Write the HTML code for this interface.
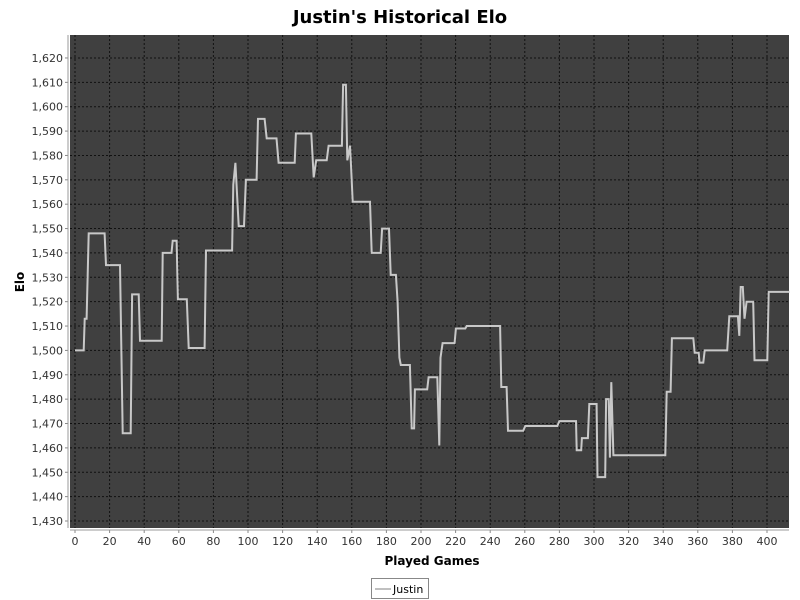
<!DOCTYPE html>
<html><head><meta charset="utf-8"><style>
body{margin:0;background:#fff;font-family:"DejaVu Sans","Liberation Sans",sans-serif;}
svg{display:block}
</style></head><body>
<svg id="chart" width="800" height="600">
<text x="400" y="23" text-anchor="middle" font-size="18" font-weight="bold">Justin's Historical Elo</text>
<rect x="70" y="35" width="719" height="493" fill="#404040"/>
<g id="grid"></g><g id="axes"></g>
<text transform="translate(24,282) rotate(-90)" text-anchor="middle" font-size="12" font-weight="bold">Elo</text>
<text x="432" y="565" text-anchor="middle" font-size="12" font-weight="bold">Played Games</text>
<g>
<rect x="371.5" y="578.5" width="57" height="20" fill="#fff" stroke="#888"/>
<line x1="375" y1="589" x2="391" y2="589" stroke="#c0c0c0" stroke-width="2"/>
<text x="393" y="593" font-size="11">Justin</text>
</g>
</svg>
<script>
const games=[0,5,5.6,6.7,7.9,17.1,17.9,26,27.6,32.2,33,36.8,37.6,50.1,50.7,55.8,56.5,58.7,59.5,64.6,65.7,74.9,75.7,90.8,91.5,92.7,94.6,97.7,98.8,105,105.8,109.6,110.8,116.5,117.7,127,127.7,136.6,138,139.4,145.5,146.6,154.3,155,156.6,157.4,159,160.5,170.5,171.5,176.7,177.5,181.5,182.5,185.5,186.5,187.5,188.3,193.6,194.6,196,196.5,203.6,204.4,209.4,210.6,211.3,212.5,219.4,220.2,225.6,226.4,245.7,246.4,249.5,250.3,259.1,260.3,278.8,280,289.6,290,292.6,293,296.5,297.3,301.5,302,306.5,307,308.5,309.2,310,311.2,341.2,342,344.3,345,357.4,358.2,360.5,361,363.2,364,377,378.2,383.2,384,384.8,386,387,388.2,392,392.8,400.2,401,413];
const elo=[1500,1500,1513,1513,1548,1548,1535,1535,1466,1466,1523,1523,1504,1504,1540,1540,1545,1545,1521,1521,1501,1501,1541,1541,1568,1577,1551,1551,1570,1570,1595,1595,1587,1587,1577,1577,1589,1589,1571,1578,1578,1584,1584,1609,1609,1578,1584,1561,1561,1540,1540,1550,1550,1531,1531,1520,1497,1494,1494,1468,1468,1484,1484,1489,1489,1461,1497,1503,1503,1509,1509,1510,1510,1485,1485,1467,1467,1469,1469,1471,1471,1459,1459,1464,1464,1478,1478,1448,1448,1480,1480,1456,1487,1457,1457,1483,1483,1505,1505,1499,1499,1495,1495,1500,1500,1514,1514,1506,1526,1526,1513,1520,1520,1496,1496,1524,1524];
const xTicks=[0,20,40,60,80,100,120,140,160,180,200,220,240,260,280,300,320,340,360,380,400];
const yTicks=[1430,1440,1450,1460,1470,1480,1490,1500,1510,1520,1530,1540,1550,1560,1570,1580,1590,1600,1610,1620];
const NS="http://www.w3.org/2000/svg";
const X=v=>75+v*1.73, Y=v=>521-(v-1430)*2.437;
const svg=document.getElementById('chart'),grid=document.getElementById('grid'),axes=document.getElementById('axes');
function mk(tag,a,p){const e=document.createElementNS(NS,tag);for(const k in a)e.setAttribute(k,a[k]);p.appendChild(e);return e;}
xTicks.forEach(t=>{
 const l=mk('line',{x1:X(t),x2:X(t),y1:35,y2:528,stroke:'#111','stroke-dasharray':'2,2','stroke-width':1},grid);
 
 
 const tk=mk('line',{x1:X(t),x2:X(t),y1:530,y2:533,stroke:'#888'},axes);
 
 
 const tx=mk('text',{x:X(t),y:545,'text-anchor':'middle','font-size':11,fill:'#333'},axes);tx.textContent=t;
 
 
});
yTicks.forEach(t=>{
 const l=mk('line',{x1:70,x2:789,y1:Y(t),y2:Y(t),stroke:'#111','stroke-dasharray':'2,2','stroke-width':1},grid);
 
 
 const tk=mk('line',{x1:65,x2:68,y1:Y(t),y2:Y(t),stroke:'#888'},axes);
 
 
 const tx=mk('text',{x:63,y:Y(t)+4,'text-anchor':'end','font-size':11,fill:'#333'},axes);tx.textContent=t.toLocaleString('en-US');
 
 
});
const xa=mk('line',{x1:70,x2:789,y1:530,y2:530,stroke:'#999'},axes);


const ya=mk('line',{x1:68,x2:68,y1:35,y2:528,stroke:'#999'},axes);


const pts=games.map((g,i)=>X(g).toFixed(1)+','+Y(elo[i]).toFixed(1)).join(' ');
const pl=mk('polyline',{points:pts,fill:'none',stroke:'#c8c8c8','stroke-width':2,'stroke-linejoin':'miter'},svg);


</script>
</body></html>
